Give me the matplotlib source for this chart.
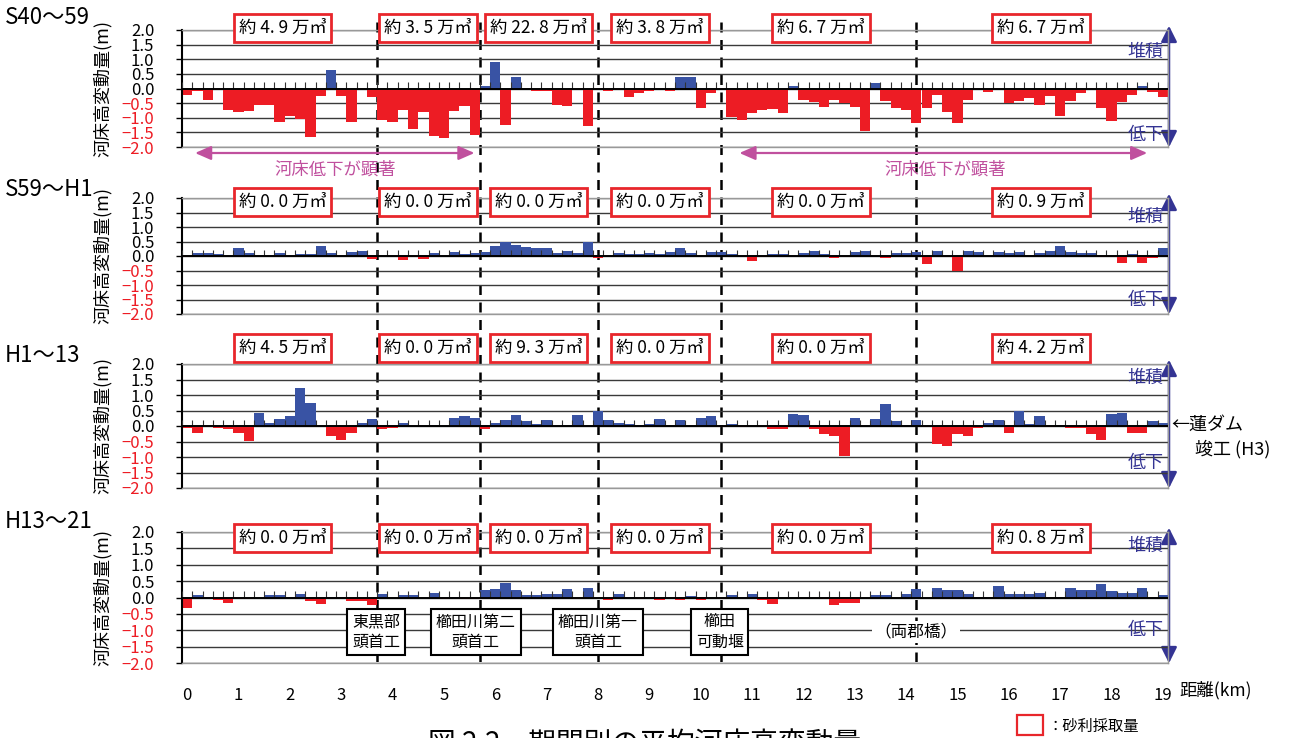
import matplotlib
matplotlib.use('Agg')
import matplotlib.pyplot as plt
import matplotlib.transforms as mtrans
from matplotlib.patches import Rectangle
import numpy as np

plt.rcParams['font.family'] = ['Noto Sans CJK JP', 'DejaVu Sans']

W, H = 1289, 738
fig = plt.figure(figsize=(W / 100, H / 100), dpi=100)

# ---------------- data ----------------
km = np.round(np.arange(96) * 0.2, 1)

s40_59 = [-0.23, -0.10, -0.40, -0.05, -0.74, -0.80, -0.77, -0.55, -0.55, -1.14,
          -0.95, -1.03, -1.66, -0.26, 0.63, -0.26, -1.14, 0.00, -0.29, -1.09,
          -1.14, -0.74, -1.40, -0.80, -1.62, -1.69, -0.77, -0.60, -1.60, 0.08,
          0.89, -1.26, 0.38, 0.00, -0.10, -0.10, -0.55, -0.60, 0.00, -1.28,
          -0.03, -0.10, -0.06, -0.29, -0.15, -0.08, -0.03, -0.08, 0.38, 0.38,
          -0.66, -0.15, 0.00, -0.97, -1.06, -0.83, -0.72, -0.69, -0.83, 0.08,
          -0.40, -0.46, -0.63, -0.40, -0.51, -0.63, -1.45, 0.18, -0.42, -0.65,
          -0.74, -1.18, -0.66, -0.23, -0.80, -1.18, -0.40, 0.00, -0.11, 0.00,
          -0.51, -0.42, -0.34, -0.57, -0.26, -0.94, -0.42, -0.15, 0.00, -0.66,
          -1.11, -0.46, -0.23, 0.10, -0.11, -0.29]

s59_h1 = [-0.05, 0.09, 0.09, 0.07, 0.00, 0.27, 0.09, 0.00, 0.00, 0.09,
          0.00, 0.07, 0.07, 0.34, 0.09, 0.00, 0.15, 0.17, -0.10, 0.00,
          0.00, -0.14, -0.05, -0.10, 0.09, 0.00, 0.13, 0.07, 0.09, 0.14,
          0.34, 0.49, 0.38, 0.31, 0.27, 0.27, 0.09, 0.17, 0.09, 0.49,
          -0.08, 0.00, 0.09, 0.07, 0.07, 0.09, 0.07, 0.15, 0.29, 0.09,
          0.00, 0.14, 0.14, 0.07, 0.00, -0.16, -0.04, 0.07, 0.07, 0.00,
          0.10, 0.18, 0.07, -0.08, -0.05, 0.15, 0.18, 0.00, -0.08, 0.10,
          0.10, 0.15, -0.27, 0.18, -0.05, -0.50, 0.18, 0.15, 0.00, 0.14,
          0.10, 0.15, 0.00, 0.10, 0.18, 0.34, 0.15, 0.10, 0.10, -0.05,
          -0.05, -0.23, 0.07, -0.23, -0.08, 0.29]

h1_13 = [-0.08, -0.22, -0.04, -0.08, -0.11, -0.22, -0.48, 0.42, 0.10, 0.23,
         0.32, 1.24, 0.75, 0.00, -0.31, -0.44, -0.22, 0.10, 0.23, -0.11,
         -0.08, 0.10, 0.00, 0.00, 0.03, 0.00, 0.26, 0.32, 0.26, -0.11,
         0.10, 0.19, 0.36, 0.16, 0.06, 0.19, 0.00, 0.03, 0.36, 0.00,
         0.49, 0.19, 0.10, 0.06, 0.03, 0.06, 0.23, 0.00, 0.19, 0.00,
         0.26, 0.32, -0.04, 0.05, -0.04, 0.00, -0.04, -0.11, -0.11, 0.39,
         0.36, -0.11, -0.27, -0.31, -0.96, 0.26, 0.00, 0.23, 0.71, 0.16,
         0.03, 0.19, -0.04, -0.57, -0.64, -0.27, -0.31, -0.08, 0.10, 0.19,
         -0.22, 0.49, 0.06, 0.32, -0.04, 0.03, -0.08, -0.08, -0.27, -0.44,
         0.39, 0.42, -0.22, -0.22, 0.16, 0.10]

h13_21 = [-0.31, 0.07, 0.03, -0.07, -0.16, -0.04, -0.04, 0.00, 0.09, 0.09,
          0.03, 0.12, -0.10, -0.19, 0.03, 0.03, -0.10, -0.10, -0.22, 0.12,
          0.00, 0.07, 0.07, 0.00, 0.14, -0.04, 0.03, -0.04, -0.04, 0.22,
          0.25, 0.43, 0.22, 0.07, 0.07, 0.10, 0.10, 0.25, -0.04, 0.28,
          0.00, -0.07, 0.10, 0.03, -0.04, 0.03, -0.07, 0.00, -0.07, 0.06,
          -0.07, 0.00, -0.04, 0.07, 0.03, 0.10, -0.07, -0.19, 0.00, 0.00,
          0.00, 0.00, -0.04, -0.22, -0.16, -0.16, 0.00, 0.07, 0.07, 0.00,
          0.12, 0.25, 0.00, 0.28, 0.22, 0.22, 0.10, 0.03, 0.03, 0.35,
          0.10, 0.10, 0.10, 0.14, 0.00, 0.03, 0.28, 0.22, 0.22, 0.41,
          0.20, 0.14, 0.14, 0.28, 0.00, 0.07]

series = [s40_59, s59_h1, h1_13, h13_21]
periods = ['S40～59', 'S59～H1', 'H1～13', 'H13～21']

gravel = [['4. 9', '3. 5', '22. 8', '3. 8', '6. 7', '6. 7'],
          ['0. 0', '0. 0', '0. 0', '0. 0', '0. 0', '0. 9'],
          ['4. 5', '0. 0', '9. 3', '0. 0', '0. 0', '4. 2'],
          ['0. 0', '0. 0', '0. 0', '0. 0', '0. 0', '0. 8']]
gravel_km = [1.86, 4.69, 6.84, 9.21, 12.34, 16.63]

boundaries_km = [3.7, 5.7, 8.0, 10.4, 14.2]
facilities = ['東黒部\n頭首工', '櫛田川第二\n頭首工', '櫛田川第一\n頭首工', '櫛田\n可動堰']
facility_km = [3.68, 5.62, 8.0, 10.37]

yticks = [2.0, 1.5, 1.0, 0.5, 0.0, -0.5, -1.0, -1.5, -2.0]
ytick_labels = ['2.0', '1.5', '1.0', '0.5', '0.0', '−0.5', '−1.0', '−1.5', '−2.0']
xticks = list(range(20))

# ---------------- styling ----------------
RED = '#ED1C24'
BLUE = '#3953A4'
NAVY = '#343493'
MAG = '#C0509E'

L, R = 182, 1168
panels_px = [(30, 147), (198, 314), (364, 488), (532, 663)]
title_py = [18, 190, 355, 521]
box_py = [28, 202, 348, 538]
sekiseki_py = [(52, 135), (217, 300), (378, 463), (546, 630)]


def fx(px):
    return px / W


def fy(py):
    return 1 - py / H


# overlay for dashed boundary lines
ax0 = fig.add_axes([fx(L), fy(662), (R - L) / W, (662 - 22) / H], zorder=0)
ax0.set_xlim(-0.1, 19.1)
ax0.set_ylim(0, 1)
ax0.axis('off')
ax0.vlines(boundaries_km, 0, 1, colors='black', linestyles=(0, (4, 3)), lw=1.8)

edges = np.round(np.arange(97) * 0.2 - 0.1, 2)

for p, (vals, (top, bot)) in enumerate(zip(series, panels_px)):
    ax = fig.add_axes([fx(L), fy(bot), (R - L) / W, (bot - top) / H], zorder=1)
    ax.set_facecolor('none')
    ax.set_xlim(-0.1, 19.1)
    ax.set_ylim(-2, 2)
    ppu = (bot - top) / 4.0
    trans = mtrans.blended_transform_factory(ax.transData, fig.transFigure)

    for yv in yticks:
        ax.axhline(yv, color='#3a3a3a', lw=1.0, zorder=1)
    ax.axhline(0, color='black', lw=1.4, zorder=4)

    cols = [RED if v < 0 else BLUE for v in vals]
    ax.bar(km, vals, width=0.2, color=cols, edgecolor='none', zorder=2)
    ax.vlines(edges, 0, 6.5 / ppu, colors='#333333', lw=0.8, zorder=3)

    ax.set_yticks(yticks)
    ax.set_yticklabels(ytick_labels, fontsize=12)
    for lab, yv in zip(ax.get_yticklabels(), yticks):
        lab.set_color(RED if yv < 0 else 'black')
    ax.tick_params(axis='y', direction='out', length=4, width=1, pad=16)

    if p == 3:
        ax.set_xticks(xticks)
        ax.set_xticklabels([str(t) for t in xticks], fontsize=12)
        ax.tick_params(axis='x', length=0, pad=17)
    else:
        ax.set_xticks([])

    for s in ['top', 'right', 'bottom']:
        ax.spines[s].set_color('#999999')
        ax.spines[s].set_linewidth(1.0)
    ax.spines['left'].set_color('black')
    ax.spines['left'].set_linewidth(1.5)

    ax.set_ylabel('河床高変動量(m)', fontsize=13)
    ax.yaxis.set_label_coords((112 - L) / (R - L), 0.5)

    fig.text(fx(5), fy(title_py[p]), periods[p], fontsize=16, va='center', ha='left')

    for xk, g in zip(gravel_km, gravel[p]):
        ax.text(xk, fy(box_py[p]), f'約 {g} 万㎥', transform=trans, ha='center', va='center',
                fontsize=12.5, zorder=6,
                bbox=dict(boxstyle='square,pad=0.28', fc='white', ec='#E8262B', lw=2))

    ax.text(18.66, fy(sekiseki_py[p][0]), '堆積', transform=trans, ha='center', va='center',
            fontsize=13, color=NAVY, zorder=6)
    ax.text(18.66, fy(sekiseki_py[p][1]), '低下', transform=trans, ha='center', va='center',
            fontsize=13, color=NAVY, zorder=6)

    fig.add_artist(matplotlib.patches.FancyArrowPatch(
        (fx(1169), fy(bot + 3)), (fx(1169), fy(top - 7)), transform=fig.transFigure,
        arrowstyle='<|-|>,head_length=0.8,head_width=0.4', mutation_scale=12, color=NAVY, lw=1.8))

    if p == 0:
        for (a, b), tx in [((0.1, 5.65), 2.88), ((10.7, 18.75), 14.77)]:
            ax.annotate('', xy=(a, fy(153)), xytext=(b, fy(153)), xycoords=trans, textcoords=trans,
                        arrowprops=dict(arrowstyle='<|-|>,head_length=0.8,head_width=0.35',
                                        color=MAG, lw=1.6, mutation_scale=12))
            ax.text(tx, fy(170), '河床低下が顕著', transform=trans, ha='center', va='center',
                    fontsize=12.5, color=MAG)
    if p == 3:
        for xk, name in zip(facility_km, facilities):
            ax.text(xk, fy(632), name, transform=trans, ha='center', va='center', fontsize=11.5,
                    multialignment='center', linespacing=1.25, zorder=7,
                    bbox=dict(boxstyle='square,pad=0.3', fc='white', ec='black', lw=1.5))
        ax.text(14.2, fy(632), '（両郡橋）', transform=trans, ha='center', va='center', fontsize=12,
                zorder=7, bbox=dict(boxstyle='square,pad=0.15', fc='white', ec='none'))

fig.text(fx(1179), fy(690), '距離(km)', fontsize=12.5, va='center', ha='left')
fig.text(fx(1171), fy(425), '←蓮ダム', fontsize=13, va='center', ha='left')
fig.text(fx(1195), fy(449), '竣工 (H3)', fontsize=13, va='center', ha='left')

fig.add_artist(Rectangle((fx(1017), fy(735)), (1043 - 1017) / W, 20 / H, transform=fig.transFigure,
                         fc='white', ec='#E8262B', lw=1.6))
fig.text(fx(1047), fy(726), '：砂利採取量', fontsize=11, va='center', ha='left')
fig.text(fx(645), fy(729), '図 2.2　期間別の平均河床高変動量', fontsize=20, va='top', ha='center')

fig.savefig('out.png', dpi=100)
